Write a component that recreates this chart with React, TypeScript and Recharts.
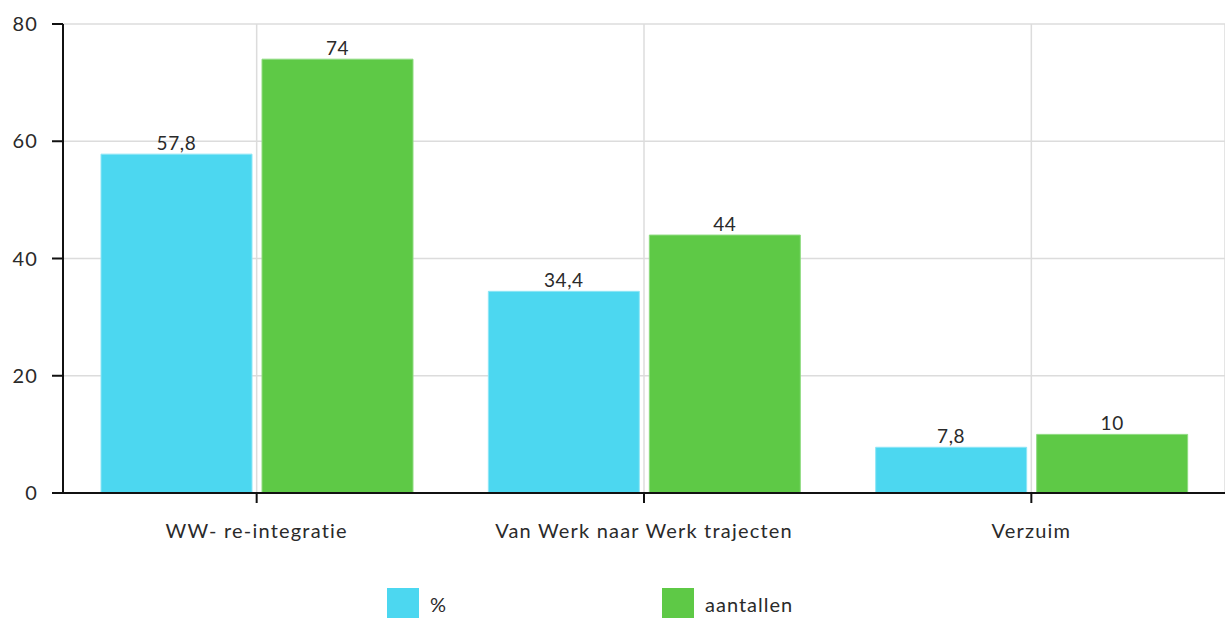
import { BarChart, Bar, XAxis, YAxis, CartesianGrid, Legend, LabelList } from "recharts"

const categories = ["WW- re-integratie", "Van Werk naar Werk trajecten", "Verzuim"]
const percentages = [57.8, 34.4, 7.8]
const counts = [74, 44, 10]
const yTicks = [0, 20, 40, 60, 80]

const CYAN = "#4cd7f0"
const GREEN = "#5ec946"
const FONT = "Lato, 'Open Sans', sans-serif"

const data = categories.map((name, i) => ({
  name,
  pct: percentages[i],
  count: counts[i],
}))

const fmt = (v: any) => String(v).replace(".", ",")

const legendItems = [
  { label: "%", color: CYAN },
  { label: "aantallen", color: GREEN },
]

function LegendBox() {
  return (
    <div style={{ display: "flex", fontFamily: FONT, fontSize: 20, letterSpacing: 1, color: "#2a2a2a" }}>
      {legendItems.map((it) => (
        <div key={it.label} style={{ display: "flex", alignItems: "center", width: 275, height: 31 }}>
          <span style={{ width: 32, height: 31, background: it.color, display: "inline-block", marginRight: 11 }} />
          <span>{it.label}</span>
        </div>
      ))}
    </div>
  )
}

const tickStyle = { fill: "#2a2a2a", fontSize: 20, fontFamily: FONT, letterSpacing: 1.2 }

export default function App() {
  return (
    <div style={{ position: "absolute", left: 0, top: 0, background: "#fff" }}>
      <BarChart
        width={1225}
        height={618}
        data={data}
        margin={{ top: 24, right: 0, left: 0, bottom: 0 }}
        barSize={151}
        barGap={10}
      >
        <CartesianGrid stroke="#dcdcdc" strokeWidth={1.5} />
        <XAxis
          dataKey="name"
          height={94}
          axisLine={{ stroke: "#111", strokeWidth: 2 }}
          tickLine={{ stroke: "#111", strokeWidth: 2 }}
          tickSize={10}
          tickMargin={21}
          tick={tickStyle}
        />
        <YAxis
          width={63}
          domain={[0, 80]}
          ticks={yTicks}
          axisLine={{ stroke: "#111", strokeWidth: 2 }}
          tickLine={{ stroke: "#111", strokeWidth: 2 }}
          tickSize={11}
          tickMargin={14}
          tick={tickStyle}
        />
        <Legend
          content={<LegendBox />}
          wrapperStyle={{ left: 387, top: 588, width: 600, height: 31 }}
        />
        <Bar dataKey="pct" fill={CYAN} stroke="#8ee6f6" strokeWidth={1} isAnimationActive={false}>
          <LabelList dataKey="pct" position="top" offset={4} formatter={fmt} fill="#2a2a2a" fontSize={19} letterSpacing={0.6} fontFamily={FONT} />
        </Bar>
        <Bar dataKey="count" fill={GREEN} stroke="#8fdb80" strokeWidth={1} isAnimationActive={false}>
          <LabelList dataKey="count" position="top" offset={4} formatter={fmt} fill="#2a2a2a" fontSize={19} letterSpacing={0.6} fontFamily={FONT} />
        </Bar>
      </BarChart>
    </div>
  )
}
